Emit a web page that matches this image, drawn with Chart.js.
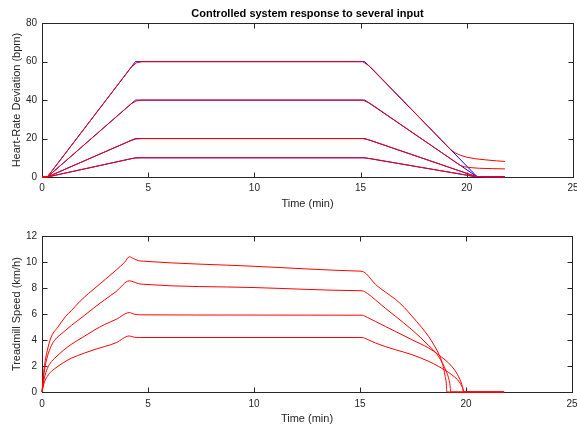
<!DOCTYPE html>
<html lang="en">
<head>
<meta charset="UTF-8">
<title>Controlled system response</title>
<script src="https://cdn.jsdelivr.net/npm/chart.js@4"></script>
<style>
  html, body { margin: 0; padding: 0; background: #fff; overflow: hidden; width: 577px; height: 426px; }
  canvas { position: absolute; left: 0; }
  #hrChart { top: 0; }
  #speedChart { top: 212px; }
</style>
</head>
<body>
<canvas id="hrChart" width="584" height="212"></canvas>
<canvas id="speedChart" width="584" height="214"></canvas>

<script>
  // ---- heart rate: reference inputs (blue) ----
  var refTime = [0, 0.25, 4.4, 15.2, 20.5, 21.8]
  var ref60 = [0, 0, 60, 60, 0, 0]
  var ref40 = [0, 0, 40, 40, 0, 0]
  var ref20 = [0, 0, 20, 20, 0, 0]
  var ref10 = [0, 0, 10, 10, 0, 0]

  // ---- heart rate: controlled response (red) ----
  var hr60Time = [0, 0.25, 4.2, 4.45, 4.7, 15.1, 15.45, 19.25, 19.45, 19.7, 20.0, 20.4, 20.9, 21.4, 21.8]
  var hr60 = [0, 0, 57.1, 59.4, 60, 60, 57.4, 14.2, 12.6, 11.3, 10.3, 9.5, 8.9, 8.4, 8.1]
  var hr40Time = [0, 0.25, 4.2, 4.45, 4.7, 15.1, 15.45, 19.7, 19.9, 20.2, 20.6, 21.2, 21.8]
  var hr40 = [0, 0, 38.1, 39.6, 40, 40, 38.3, 6.0, 5.3, 4.85, 4.55, 4.35, 4.2]
  var hrLowTime = [0, 0.25, 4.2, 4.45, 4.7, 15.1, 15.45, 20.2, 20.5, 20.8, 21.8]
  var hr20 = [0, 0, 19.05, 19.8, 20, 20, 19.15, 1.15, 0.3, 0.05, 0]
  var hr10 = [0, 0, 9.52, 9.9, 10, 10, 9.58, 0.58, 0.15, 0.03, 0]

  // ---- treadmill speed (red) ----
  var sp1Time = [0, 0.1, 0.25, 0.45, 0.75, 1.1, 1.4, 1.8, 2.2, 2.6, 3.0, 3.5, 3.9, 4.12, 4.3, 4.55, 4.8, 10.0, 14.9, 15.1, 15.3, 15.73, 16.2, 16.67, 17.1, 17.45, 17.9, 18.23, 18.5, 18.7, 18.85, 18.95, 19.02, 19.07, 19.1, 21.8]
  var sp1 = [0, 1.8, 3.2, 4.3, 5.0, 5.8, 6.3, 7.0, 7.6, 8.15, 8.7, 9.4, 10.0, 10.42, 10.3, 10.12, 10.08, 9.69, 9.32, 9.3, 9.1, 8.3, 7.7, 7.15, 6.5, 5.85, 5.0, 4.3, 3.6, 3.0, 2.4, 1.8, 1.2, 0.7, 0, 0]
  var sp2Time = [0, 0.1, 0.25, 0.45, 0.6, 1.0, 1.4, 2.0, 2.5, 2.95, 3.5, 4.12, 4.3, 4.55, 4.8, 10.0, 14.9, 15.1, 15.35, 15.73, 16.2, 16.67, 17.45, 18.23, 18.7, 19.1, 19.2, 19.25, 19.28, 21.8]
  var sp2 = [0, 1.5, 2.7, 3.6, 4.0, 4.6, 5.15, 5.9, 6.55, 7.1, 7.75, 8.57, 8.5, 8.35, 8.3, 8.05, 7.81, 7.8, 7.6, 7.1, 6.45, 5.84, 4.8, 3.6, 2.76, 1.47, 0.95, 0.5, 0, 0]
  var sp3Time = [0, 0.1, 0.25, 0.45, 0.6, 1.0, 1.38, 2.0, 2.5, 2.95, 3.5, 4.12, 4.35, 4.6, 10.0, 14.9, 15.1, 15.35, 15.73, 16.2, 16.67, 17.45, 18.23, 18.7, 19.33, 19.6, 19.72, 19.8, 19.85, 19.88, 21.8]
  var sp3 = [0, 1.0, 1.8, 2.35, 2.6, 3.2, 3.67, 4.3, 4.8, 5.2, 5.6, 6.12, 6.0, 5.95, 5.93, 5.92, 5.92, 5.75, 5.44, 5.05, 4.67, 4.03, 3.4, 2.88, 1.98, 1.35, 0.95, 0.6, 0.35, 0, 0]
  var sp4Time = [0, 0.1, 0.25, 0.45, 0.6, 1.0, 1.38, 2.0, 2.5, 2.95, 3.5, 4.12, 4.35, 4.6, 10.0, 14.9, 15.1, 15.35, 15.73, 16.2, 16.67, 17.45, 18.23, 18.7, 19.33, 19.6, 19.72, 19.8, 19.86, 19.9, 21.8]
  var sp4 = [0, 0.7, 1.2, 1.6, 1.8, 2.25, 2.6, 3.0, 3.28, 3.5, 3.8, 4.32, 4.22, 4.2, 4.2, 4.2, 4.2, 4.05, 3.78, 3.5, 3.26, 2.88, 2.37, 1.98, 1.33, 0.95, 0.69, 0.45, 0.25, 0, 0]

  var xTicks = [0, 5, 10, 15, 20, 25]

  var axisColor = '#262626'
  var fontFamily = '"Liberation Sans", Arial, Helvetica, sans-serif'

  function pts(xs, ys) {
    return xs.map(function (x, i) { return { x: x, y: ys[i] } })
  }

  function line(xs, ys, color, smooth) {
    return {
      data: pts(xs, ys),
      borderColor: color,
      borderWidth: 1,
      pointRadius: 0,
      fill: false,
      tension: 0,
      cubicInterpolationMode: smooth ? 'monotone' : 'default',
      clip: false
    }
  }

  // box round the axes with inward ticks, like the original figure
  const boxPlugin = {
    id: 'box',
    beforeDatasetsDraw(chart) {
      const ctx = chart.ctx
      const a = chart.chartArea
      const sx = chart.scales.x, sy = chart.scales.y
      const L = Math.round(a.left) + 0.5, R = Math.round(a.right) + 0.5
      const T = Math.round(a.top) + 0.5, B = Math.round(a.bottom) + 0.5
      ctx.save()
      ctx.strokeStyle = axisColor
      ctx.lineWidth = 1
      ctx.strokeRect(L, T, R - L, B - T)
      ctx.beginPath()
      sx.ticks.forEach(function (t) {
        const p = Math.round(sx.getPixelForValue(t.value)) + 0.5
        ctx.moveTo(p, B); ctx.lineTo(p, B - 5)
        ctx.moveTo(p, T); ctx.lineTo(p, T + 5)
      })
      sy.ticks.forEach(function (t) {
        const p = Math.round(sy.getPixelForValue(t.value)) + 0.5
        ctx.moveTo(L, p); ctx.lineTo(L + 5, p)
        ctx.moveTo(R, p); ctx.lineTo(R - 5, p)
      })
      ctx.stroke()
      ctx.restore()
    }
  }

  function makeOptions(yMax, yStep, yTitle, titleText, padTop, xHeight, tickPad, xTitlePad) {
    return {
      responsive: false,
      animation: false,
      layout: { padding: { top: padTop, right: 10, left: 0, bottom: 0 } },
      plugins: {
        legend: { display: false },
        tooltip: { enabled: false },
        title: {
          display: !!titleText,
          text: titleText,
          color: '#000',
          fullSize: false,
          font: { family: fontFamily, size: 11, weight: 'bold' },
          padding: { top: 7, bottom: 3 }
        }
      },
      scales: {
        x: {
          type: 'linear', min: 0, max: 25,
          afterBuildTicks: function (s) { s.ticks = xTicks.map(function (v) { return { value: v } }) },
          ticks: { padding: tickPad, color: axisColor, maxRotation: 0, font: { family: fontFamily, size: 10 } },
          grid: { display: false, drawTicks: false },
          border: { display: false },
          title: { display: true, text: 'Time (min)', color: axisColor, font: { family: fontFamily, size: 11 }, padding: { top: 0, bottom: xTitlePad } },
          afterFit: function (s) { s.height = xHeight }
        },
        y: {
          min: 0, max: yMax,
          ticks: { stepSize: yStep, padding: 5, color: axisColor, font: { family: fontFamily, size: 10 } },
          grid: { display: false, drawTicks: false },
          border: { display: false },
          title: { display: true, text: yTitle, color: axisColor, font: { family: fontFamily, size: 11 }, padding: { top: 10, bottom: 0 } },
          afterFit: function (s) { s.width = 42 }
        }
      }
    }
  }

  const hrChart = new Chart(document.getElementById('hrChart'), {
    type: 'line',
    data: {
      datasets: [
        // red first so it is drawn on top
        line(hr60Time, hr60, '#ff0000'),
        line(hr40Time, hr40, '#ff0000'),
        line(hrLowTime, hr20, '#ff0000'),
        line(hrLowTime, hr10, '#ff0000'),
        line(refTime, ref60, '#0000ff'),
        line(refTime, ref40, '#0000ff'),
        line(refTime, ref20, '#0000ff'),
        line(refTime, ref10, '#0000ff')
      ]
    },
    options: makeOptions(80, 20, 'Heart-Rate Deviation (bpm)', 'Controlled system response to several input', 0, 35, 5.5, 1),
    plugins: [boxPlugin]
  })

  const speedChart = new Chart(document.getElementById('speedChart'), {
    type: 'line',
    data: {
      datasets: [
        line(sp1Time, sp1, '#ff0000', true),
        line(sp2Time, sp2, '#ff0000', true),
        line(sp3Time, sp3, '#ff0000', true),
        line(sp4Time, sp4, '#ff0000', true)
      ]
    },
    options: makeOptions(12, 2, 'Treadmill Speed (km/h)', '', 24.3, 34, 6.5, 0),
    plugins: [boxPlugin]
  })
</script>
</body>
</html>
